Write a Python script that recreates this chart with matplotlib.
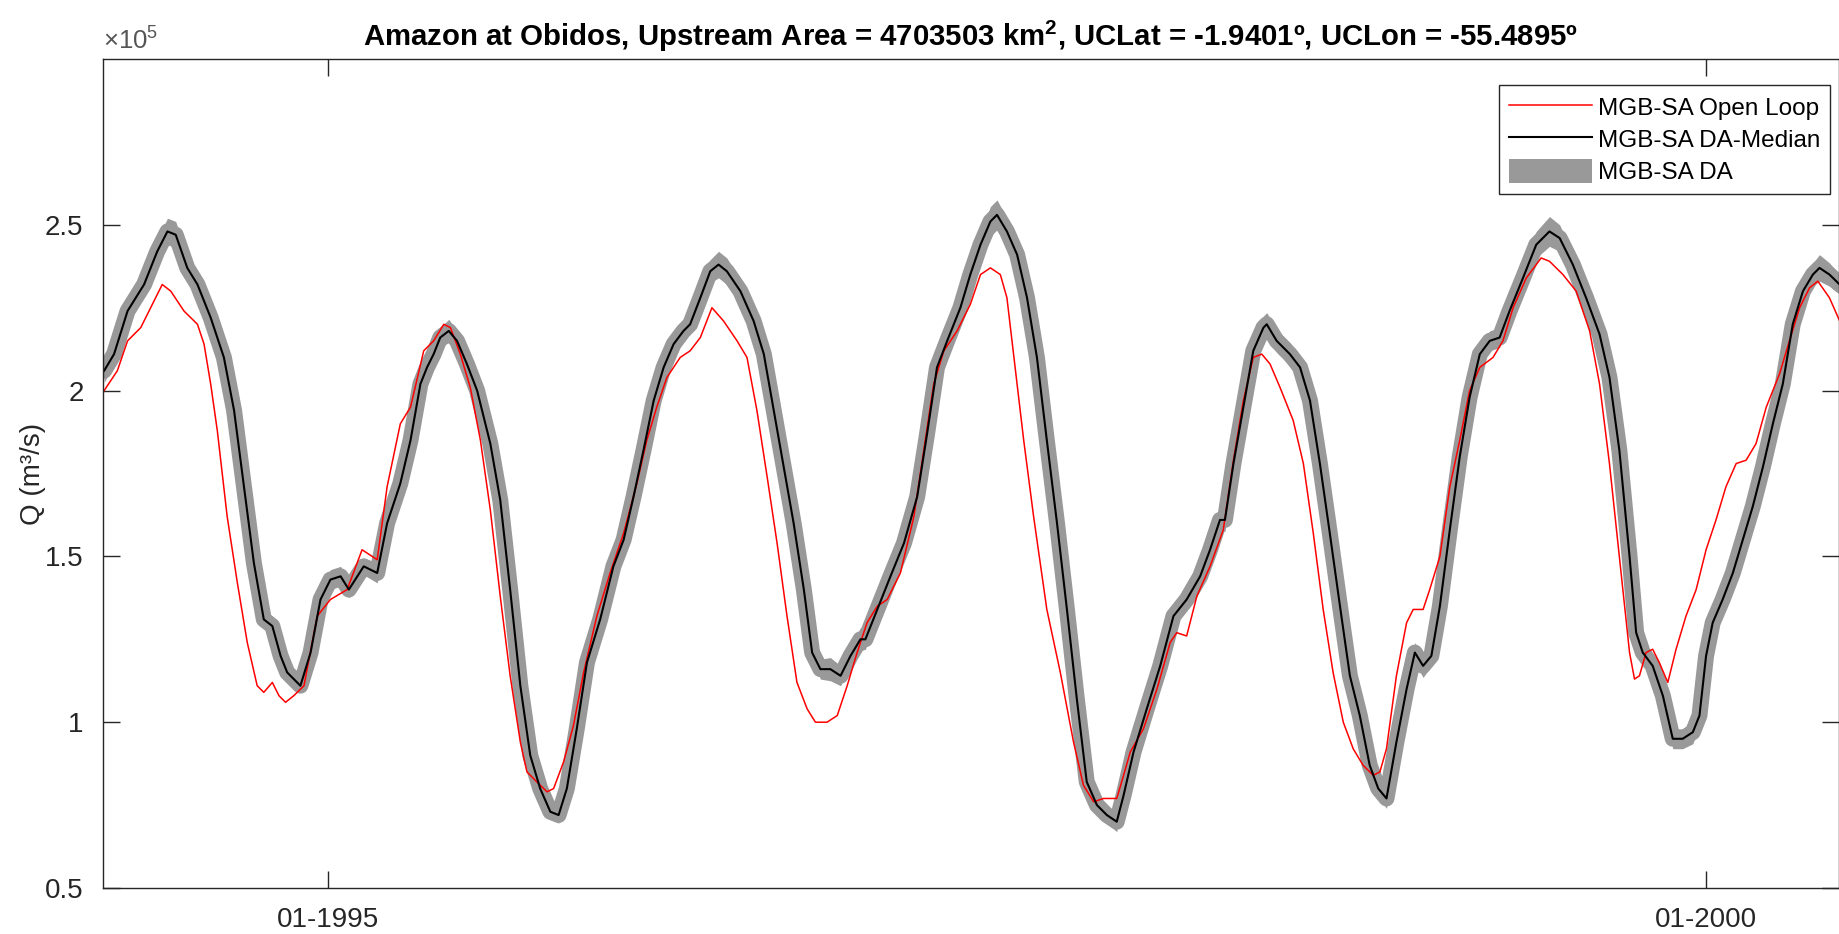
import numpy as np
import matplotlib.pyplot as plt
import matplotlib.dates as mdates
from datetime import datetime, timedelta

plt.rcParams['font.family'] = ['Liberation Sans', 'DejaVu Sans']
plt.rcParams['mathtext.fontset'] = 'custom'
plt.rcParams['mathtext.rm'] = 'Liberation Sans'
plt.rcParams['mathtext.bf'] = 'Liberation Sans:bold'

# ---------- data (Q in units of 1e5 m3/s, time in decimal years) ----------
ol_t = [1994.185, 1994.233, 1994.270, 1994.318, 1994.354, 1994.396, 1994.427, 1994.475, 1994.524, 1994.548,
        1994.572, 1994.596, 1994.632, 1994.669, 1994.705, 1994.741, 1994.765, 1994.796, 1994.820, 1994.844,
        1994.874, 1994.911, 1994.959, 1995.007, 1995.068, 1995.122, 1995.177, 1995.213,
        1995.261, 1995.298, 1995.346, 1995.382, 1995.419, 1995.443, 1995.479, 1995.515, 1995.552, 1995.588,
        1995.624, 1995.660, 1995.697, 1995.721, 1995.757, 1995.794, 1995.818, 1995.854, 1995.890, 1995.927,
        1995.975, 1996.023, 1996.072, 1996.120, 1996.156, 1996.192, 1996.229, 1996.277,
        1996.313, 1996.350, 1996.392, 1996.434, 1996.483, 1996.519, 1996.555, 1996.592, 1996.628, 1996.664,
        1996.700, 1996.737, 1996.767, 1996.809, 1996.846, 1996.882, 1996.918, 1996.954, 1996.991, 1997.027,
        1997.075, 1997.124, 1997.160, 1997.196, 1997.233, 1997.281,
        1997.329, 1997.366, 1997.402, 1997.438, 1997.462, 1997.486, 1997.523, 1997.559, 1997.607, 1997.656,
        1997.704, 1997.740, 1997.777, 1997.813, 1997.861, 1997.886, 1997.910, 1997.958, 1998.007, 1998.055,
        1998.079, 1998.115, 1998.152, 1998.200, 1998.248, 1998.285, 1998.321, 1998.357, 1998.388,
        1998.418, 1998.454, 1998.502, 1998.539, 1998.575, 1998.611, 1998.647, 1998.684, 1998.720, 1998.756,
        1998.793, 1998.817, 1998.841, 1998.877, 1998.914, 1998.938, 1998.974, 1998.998, 1999.035, 1999.071,
        1999.107, 1999.143, 1999.180, 1999.228, 1999.264, 1999.301, 1999.349, 1999.403,
        1999.433, 1999.482, 1999.530, 1999.579, 1999.615, 1999.651, 1999.687, 1999.724, 1999.742, 1999.760,
        1999.784, 1999.808, 1999.832, 1999.863, 1999.893, 1999.929, 1999.966, 2000.002, 2000.038, 2000.074,
        2000.111, 2000.147, 2000.183, 2000.220, 2000.268, 2000.304, 2000.341, 2000.377, 2000.407, 2000.449,
        2000.486]
ol_q = [2.00, 2.06, 2.15, 2.19, 2.25, 2.32, 2.30, 2.24, 2.20, 2.14,
        2.02, 1.88, 1.62, 1.42, 1.24, 1.11, 1.09, 1.12, 1.08, 1.06,
        1.08, 1.11, 1.32, 1.37, 1.40, 1.52, 1.49, 1.71,
        1.90, 1.95, 2.12, 2.15, 2.20, 2.19, 2.11, 2.01, 1.85, 1.64,
        1.38, 1.14, 0.94, 0.85, 0.82, 0.79, 0.80, 0.88, 0.99, 1.15,
        1.32, 1.45, 1.57, 1.72, 1.85, 1.95, 2.04, 2.10,
        2.12, 2.16, 2.25, 2.21, 2.15, 2.10, 1.94, 1.74, 1.54, 1.32,
        1.12, 1.04, 1.00, 1.00, 1.02, 1.11, 1.21, 1.30, 1.35, 1.37,
        1.45, 1.62, 1.82, 2.02, 2.12, 2.18,
        2.26, 2.35, 2.37, 2.35, 2.28, 2.11, 1.85, 1.62, 1.34, 1.15,
        0.94, 0.81, 0.76, 0.77, 0.77, 0.84, 0.91, 0.98, 1.10, 1.24,
        1.27, 1.26, 1.38, 1.47, 1.58, 1.79, 1.97, 2.10, 2.11,
        2.08, 2.01, 1.91, 1.78, 1.57, 1.34, 1.15, 1.00, 0.92, 0.87,
        0.84, 0.85, 0.92, 1.14, 1.30, 1.34, 1.34, 1.40, 1.50, 1.71,
        1.85, 2.00, 2.07, 2.10, 2.15, 2.25, 2.34, 2.40,
        2.39, 2.35, 2.30, 2.18, 2.02, 1.78, 1.50, 1.21, 1.13, 1.14,
        1.21, 1.22, 1.18, 1.12, 1.22, 1.32, 1.40, 1.52, 1.61, 1.71,
        1.78, 1.79, 1.84, 1.95, 2.05, 2.15, 2.25, 2.31, 2.33, 2.28,
        2.21]

da_t = [1994.185, 1994.221, 1994.270, 1994.330, 1994.378, 1994.415, 1994.445, 1994.487, 1994.524, 1994.572,
        1994.620, 1994.657, 1994.693, 1994.729, 1994.765, 1994.796, 1994.826, 1994.850, 1994.898, 1994.935,
        1994.971, 1995.007, 1995.044, 1995.074, 1995.128, 1995.177, 1995.213,
        1995.261, 1995.298, 1995.334, 1995.358, 1995.382, 1995.406, 1995.437, 1995.467, 1995.503, 1995.540,
        1995.588, 1995.624, 1995.660, 1995.697, 1995.733, 1995.769, 1995.806, 1995.836, 1995.866, 1995.902,
        1995.939, 1995.987, 1996.035, 1996.072, 1996.108, 1996.144, 1996.181, 1996.217, 1996.253, 1996.289,
        1996.313, 1996.350, 1996.386, 1996.416, 1996.446, 1996.495, 1996.543, 1996.580, 1996.616, 1996.652,
        1996.688, 1996.725, 1996.755, 1996.785, 1996.821, 1996.858, 1996.894, 1996.930, 1996.948, 1996.991,
        1997.039, 1997.088, 1997.136, 1997.172, 1997.208, 1997.245, 1997.293,
        1997.329, 1997.366, 1997.402, 1997.426, 1997.462, 1997.499, 1997.535, 1997.571, 1997.607, 1997.644,
        1997.680, 1997.716, 1997.752, 1997.789, 1997.825, 1997.861, 1997.886, 1997.922, 1997.970, 1998.019,
        1998.067, 1998.115, 1998.164, 1998.200, 1998.236, 1998.254, 1998.285, 1998.321, 1998.357, 1998.394,
        1998.406, 1998.442, 1998.490, 1998.527, 1998.563, 1998.599, 1998.635, 1998.672, 1998.708, 1998.744,
        1998.780, 1998.811, 1998.841, 1998.877, 1998.914, 1998.944, 1998.974, 1999.004, 1999.035, 1999.071,
        1999.107, 1999.143, 1999.180, 1999.216, 1999.252, 1999.288, 1999.337, 1999.385,
        1999.433, 1999.470, 1999.518, 1999.566, 1999.615, 1999.651, 1999.687, 1999.724, 1999.748, 1999.772,
        1999.808, 1999.845, 1999.881, 1999.917, 1999.954, 1999.978, 2000.002, 2000.026, 2000.062, 2000.099,
        2000.135, 2000.171, 2000.208, 2000.244, 2000.280, 2000.316, 2000.353, 2000.389, 2000.413, 2000.449,
        2000.486]
da_q = [2.06, 2.11, 2.24, 2.32, 2.42, 2.48, 2.47, 2.37, 2.32, 2.22,
        2.10, 1.94, 1.71, 1.48, 1.31, 1.29, 1.20, 1.15, 1.11, 1.21,
        1.37, 1.43, 1.44, 1.40, 1.47, 1.45, 1.60,
        1.72, 1.85, 2.02, 2.07, 2.11, 2.16, 2.18, 2.15, 2.08, 2.00,
        1.84, 1.67, 1.40, 1.11, 0.90, 0.80, 0.73, 0.72, 0.80, 0.98,
        1.18, 1.31, 1.47, 1.55, 1.68, 1.82, 1.97, 2.07, 2.14, 2.18,
        2.20, 2.28, 2.36, 2.38, 2.36, 2.30, 2.21, 2.11, 1.94, 1.77,
        1.60, 1.40, 1.21, 1.16, 1.16, 1.14, 1.20, 1.25, 1.25, 1.34,
        1.44, 1.54, 1.68, 1.87, 2.07, 2.15, 2.25,
        2.35, 2.44, 2.51, 2.53, 2.48, 2.41, 2.28, 2.10, 1.85, 1.60,
        1.34, 1.07, 0.82, 0.75, 0.72, 0.70, 0.78, 0.91, 1.04, 1.17,
        1.32, 1.37, 1.44, 1.52, 1.61, 1.61, 1.78, 1.95, 2.12, 2.19,
        2.20, 2.15, 2.11, 2.07, 1.97, 1.78, 1.57, 1.35, 1.14, 1.02,
        0.87, 0.80, 0.77, 0.94, 1.10, 1.21, 1.17, 1.20, 1.35, 1.58,
        1.80, 1.98, 2.11, 2.15, 2.16, 2.24, 2.34, 2.44,
        2.48, 2.46, 2.38, 2.28, 2.17, 2.04, 1.82, 1.50, 1.27, 1.21,
        1.17, 1.08, 0.95, 0.95, 0.97, 1.02, 1.20, 1.30, 1.37, 1.45,
        1.55, 1.65, 1.77, 1.90, 2.02, 2.20, 2.30, 2.35, 2.37, 2.35,
        2.32]
# half spread of the DA ensemble around the median
da_spread = [0.035, 0.03, 0.03, 0.03, 0.035, 0.04, 0.04, 0.035, 0.035, 0.03,
             0.025, 0.02, 0.02, 0.02, 0.025, 0.03, 0.03, 0.025, 0.02, 0.02,
             0.02, 0.03, 0.03, 0.025, 0.025, 0.03, 0.02,
             0.02, 0.02, 0.02, 0.025, 0.025, 0.03, 0.035, 0.03, 0.025, 0.02,
             0.02, 0.02, 0.02, 0.02, 0.02, 0.02, 0.02, 0.025, 0.02, 0.02,
             0.025, 0.025, 0.03, 0.03, 0.025, 0.025, 0.03, 0.035, 0.03, 0.03,
             0.03, 0.035, 0.035, 0.04, 0.04, 0.035, 0.03, 0.025, 0.02, 0.02,
             0.02, 0.02, 0.025, 0.03, 0.035, 0.03, 0.03, 0.035, 0.03, 0.025,
             0.03, 0.03, 0.025, 0.02, 0.02, 0.025, 0.03,
             0.03, 0.035, 0.045, 0.045, 0.04, 0.035, 0.03, 0.02, 0.02, 0.02,
             0.02, 0.02, 0.02, 0.02, 0.025, 0.03, 0.02, 0.02, 0.02, 0.02,
             0.025, 0.025, 0.025, 0.025, 0.03, 0.035, 0.025, 0.02, 0.03, 0.035,
             0.035, 0.035, 0.035, 0.035, 0.03, 0.02, 0.02, 0.02, 0.02, 0.02,
             0.02, 0.025, 0.03, 0.02, 0.02, 0.03, 0.035, 0.03, 0.02, 0.02,
             0.02, 0.02, 0.025, 0.03, 0.03, 0.03, 0.035, 0.04,
             0.045, 0.04, 0.035, 0.03, 0.025, 0.02, 0.02, 0.02, 0.025, 0.03,
             0.025, 0.025, 0.03, 0.03, 0.035, 0.025, 0.02, 0.025, 0.03, 0.035,
             0.035, 0.035, 0.03, 0.025, 0.02, 0.02, 0.025, 0.035, 0.04, 0.035,
             0.03]

title = (r'Amazon at Obidos, Upstream Area = 4703503 km$^{\mathbf{2}}$, '
         'UCLat = -1.9401º, UCLon = -55.4895º')
yticks = [0.5, 1, 1.5, 2, 2.5]


def yr2date(y):
    y0 = int(y)
    d0 = datetime(y0, 1, 1)
    n = (datetime(y0 + 1, 1, 1) - d0).days
    return d0 + timedelta(days=(y - y0) * n)


ol_d = [yr2date(v) for v in ol_t]
da_d = [yr2date(v) for v in da_t]
da_q = np.array(da_q)
da_s = np.array(da_spread)

fig = plt.figure(figsize=(18.4, 9.34), dpi=100)
ax = fig.add_axes([103 / 1840, 46 / 934, 1736 / 1840, 829 / 934])

gray = '#999999'
band = ax.fill_between(da_d, da_q - da_s, da_q + da_s, color=gray, lw=0)
ax.plot(da_d, da_q, color=gray, lw=11.5, solid_capstyle='round', solid_joinstyle='round')
l_ol, = ax.plot(ol_d, ol_q, color='red', lw=1.1)
l_da, = ax.plot(da_d, da_q, color='black', lw=1.5)

ax.set_xlim(datetime(1994, 3, 8), datetime(2000, 6, 26))
ax.set_ylim(0.5, 3.0)
ax.set_yticks(yticks)
ax.set_yticklabels(['%g' % v for v in yticks])
ax.xaxis.set_major_locator(mdates.YearLocator(5))
ax.xaxis.set_major_formatter(mdates.DateFormatter('%m-%Y'))

dark = '#262626'
ax.tick_params(direction='in', length=12, width=1, top=True, right=True,
               labelsize=20, color=dark, labelcolor=dark, pad=14)
for s in ax.spines.values():
    s.set_color(dark)
    s.set_linewidth(1.0)

ax.set_title(title, fontsize=21.2, fontweight='bold', pad=9)
ax.set_ylabel('Q (m³/s)', fontsize=20, color=dark, labelpad=-1)
ax.text(0, 1.006, '×10$^{5}$', transform=ax.transAxes, ha='left', va='bottom',
        fontsize=18.5, color='#555555')

leg = ax.legend([l_ol, l_da, band], ['MGB-SA Open Loop', 'MGB-SA DA-Median', 'MGB-SA DA'],
                loc='upper right', bbox_to_anchor=(0.9948, 0.9686), borderaxespad=0,
                fontsize=17.5, fancybox=False, edgecolor=dark, framealpha=1,
                handlelength=3.4, handletextpad=0.25, labelspacing=0.3, borderpad=0.4,
                handleheight=1.1)
leg.get_frame().set_linewidth(1.0)

fig.savefig('out.png', dpi=100)
